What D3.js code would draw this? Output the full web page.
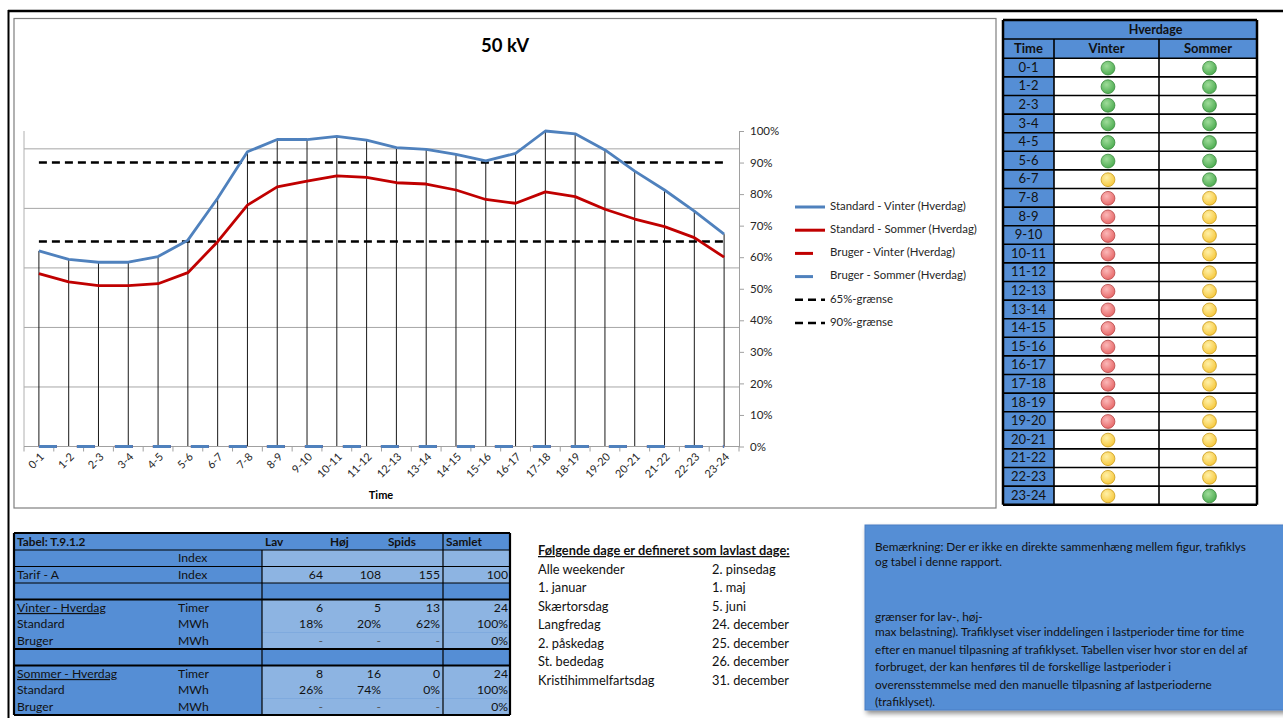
<!DOCTYPE html>
<html>
<head>
<meta charset="utf-8">
<script src="https://cdn.jsdelivr.net/npm/d3@7"></script>
<style>
  body { margin: 0; background: #fff; }
  svg { display: block; font-family: Lato, "Open Sans", sans-serif; }
</style>
</head>
<body>
<svg id="page" width="1283" height="718"></svg>
<script>
// Chart data
const hours = ['0-1','1-2','2-3','3-4','4-5','5-6','6-7','7-8','8-9','9-10','10-11','11-12',
  '12-13','13-14','14-15','15-16','16-17','17-18','18-19','19-20','20-21','21-22','22-23','23-24'];
const standardVinter = [62.0, 59.3, 58.4, 58.4, 60.2, 65.4, 78.7, 93.4, 97.3, 97.3, 98.3, 97.1,
  94.7, 94.2, 92.6, 90.5, 92.9, 100, 99.1, 94.0, 87.3, 81.3, 74.6, 67.3];
const standardSommer = [54.8, 52.2, 51.0, 51.0, 51.6, 55.1, 64.9, 76.5, 82.3, 84.1, 85.8, 85.3,
  83.6, 83.2, 81.3, 78.3, 77.1, 80.7, 79.2, 75.2, 72.1, 69.7, 66.2, 60.0];
const brugerVinter = [0,0,0,0,0,0,0,0,0,0,0,0,0,0,0,0,0,0,0,0,0,0,0,0];
const brugerSommer = [0,0,0,0,0,0,0,0,0,0,0,0,0,0,0,0,0,0,0,0,0,0,0,0];
const limit65 = 65;
const limit90 = 90;
const percentTicks = [0,10,20,30,40,50,60,70,80,90,100];
// hidden primary axis (gives the grey gridlines)
const primaryMax = 0.53;
const primaryTicks = [0.1,0.2,0.3,0.4,0.5];

const legendItems = [
  { label: 'Standard - Vinter (Hverdag)', color: '#4F81BD', dash: null },
  { label: 'Standard - Sommer (Hverdag)', color: '#C00000', dash: null },
  { label: 'Bruger - Vinter (Hverdag)', color: '#C00000', dash: '18,20' },
  { label: 'Bruger - Sommer (Hverdag)', color: '#4F81BD', dash: '18,20' },
  { label: '65%-grænse', color: '#000', dash: '8,5' },
  { label: '90%-grænse', color: '#000', dash: '8,5' }
];

// Traffic light table
const vinterLights = ['g','g','g','g','g','g','y','r','r','r','r','r','r','r','r','r','r','r','r','r','y','y','y','y'];
const sommerLights = ['g','g','g','g','g','g','g','y','y','y','y','y','y','y','y','y','y','y','y','y','y','y','y','g'];

// Bottom table
const tableTitle = 'Tabel: T.9.1.2';
const tableCols = ['Lav','Høj','Spids','Samlet'];
const tableRows = [
  { a: '', b: 'Index', v: ['', '', '', ''] },
  { a: 'Tarif - A', b: 'Index', v: ['64', '108', '155', '100'] },
  { blank: true },
  { a: 'Vinter - Hverdag', b: 'Timer', v: ['6', '5', '13', '24'], u: true },
  { a: 'Standard', b: 'MWh', v: ['18%', '20%', '62%', '100%'] },
  { a: 'Bruger', b: 'MWh', v: ['-', '-', '-', '0%'] },
  { blank: true },
  { a: 'Sommer - Hverdag', b: 'Timer', v: ['8', '16', '0', '24'], u: true },
  { a: 'Standard', b: 'MWh', v: ['26%', '74%', '0%', '100%'] },
  { a: 'Bruger', b: 'MWh', v: ['-', '-', '-', '0%'] }
];

const lavlastHeading = 'Følgende dage er defineret som lavlast dage:';
const lavlastLeft = ['Alle weekender','1. januar','Skærtorsdag','Langfredag','2. påskedag','St. bededag','Kristihimmelfartsdag'];
const lavlastRight = ['2. pinsedag','1. maj','5. juni','24. december','25. december','26. december','31. december'];

const noteLines = [
  'Bemærkning: Der er ikke en direkte sammenhæng mellem figur, trafiklys',
  'og tabel i denne rapport.',
  '',
  '',
  'grænser for lav-, høj-',
  'max belastning). Trafiklyset viser inddelingen i lastperioder time for time',
  'efter en manuel tilpasning af trafiklyset. Tabellen viser hvor stor en del af',
  'forbruget, der kan henføres til de forskellige lastperioder i',
  'overensstemmelse med den manuelle tilpasning af lastperioderne',
  '(trafiklyset).'
];

const svg = d3.select('#page');
const defs = svg.append('defs');

// Outer frame
svg.append('line').attr('x1', 8).attr('x2', 1283).attr('y1', 11).attr('y2', 11)
  .attr('stroke', '#000').attr('stroke-width', 2.5);
svg.append('line').attr('x1', 8.5).attr('x2', 8.5).attr('y1', 10).attr('y2', 718)
  .attr('stroke', '#000').attr('stroke-width', 2);

// Chart box
svg.append('rect').attr('x', 14).attr('y', 18.5).attr('width', 982).attr('height', 489.5)
  .attr('fill', '#fff').attr('stroke', '#7f7f7f').attr('stroke-width', 1.2);

svg.append('text').attr('x', 505).attr('y', 52).attr('text-anchor', 'middle')
  .attr('font-size', 18.5).attr('font-weight', 'bold').attr('fill', '#000').text('50 kV');

// Scales
const plotLeft = 24, plotRight = 739, plotTop = 131, plotBottom = 446.5;
const x = d3.scaleBand().domain(hours).range([plotLeft, plotRight]);
const xc = d => x(d) + x.bandwidth() / 2;
const y = d3.scaleLinear().domain([0, 100]).range([plotBottom, plotTop]);
const yPrim = d3.scaleLinear().domain([0, primaryMax]).range([plotBottom, plotTop]);

// Gridlines
svg.append('g').selectAll('line').data(primaryTicks).join('line')
  .attr('x1', plotLeft).attr('x2', plotRight)
  .attr('y1', d => yPrim(d)).attr('y2', d => yPrim(d))
  .attr('stroke', '#a6a6a6').attr('stroke-width', 1);

// Left (hidden) axis line
svg.append('line').attr('x1', plotLeft).attr('x2', plotLeft).attr('y1', plotTop).attr('y2', plotBottom)
  .attr('stroke', '#b0b0b0').attr('stroke-width', 1);

// Drop lines
svg.append('g').selectAll('line').data(hours).join('line')
  .attr('x1', d => xc(d)).attr('x2', d => xc(d))
  .attr('y1', (d, i) => y(Math.max(standardVinter[i], standardSommer[i])))
  .attr('y2', plotBottom)
  .attr('stroke', '#1a1a1a').attr('stroke-width', 1);

// Limit lines
[limit65, limit90].forEach(v => {
  svg.append('line')
    .attr('x1', xc(hours[0])).attr('x2', xc(hours[hours.length - 1]))
    .attr('y1', y(v)).attr('y2', y(v))
    .attr('stroke', '#000').attr('stroke-width', 2.6).attr('stroke-dasharray', '8,5');
});

const line = d3.line().x((d, i) => xc(hours[i])).y(d => y(d));

// Series lines
svg.append('path').datum(standardSommer).attr('d', line)
  .attr('fill', 'none').attr('stroke', '#C00000').attr('stroke-width', 2.8).attr('stroke-linejoin', 'round');
svg.append('path').datum(standardVinter).attr('d', line)
  .attr('fill', 'none').attr('stroke', '#4F81BD').attr('stroke-width', 2.8).attr('stroke-linejoin', 'round');

// X axis
svg.append('line').attr('x1', plotLeft).attr('x2', plotRight).attr('y1', plotBottom).attr('y2', plotBottom)
  .attr('stroke', '#a0a0a0').attr('stroke-width', 1);
svg.append('g').selectAll('line').data(hours.concat(['end'])).join('line')
  .attr('x1', d => d === 'end' ? plotRight : x(d)).attr('x2', d => d === 'end' ? plotRight : x(d))
  .attr('y1', plotBottom).attr('y2', plotBottom + 5)
  .attr('stroke', '#a0a0a0');

// Bruger series at zero
svg.append('path').datum(brugerVinter).attr('d', line)
  .attr('fill', 'none').attr('stroke', '#C00000').attr('stroke-width', 3).attr('stroke-dasharray', '18,20');
svg.append('path').datum(brugerSommer).attr('d', line)
  .attr('fill', 'none').attr('stroke', '#4F81BD').attr('stroke-width', 3.2).attr('stroke-dasharray', '18,20');

svg.append('g').selectAll('text').data(hours).join('text')
  .attr('transform', d => `translate(${xc(d) + 4},${plotBottom + 9}) rotate(-45)`)
  .attr('text-anchor', 'end').attr('dominant-baseline', 'middle')
  .attr('font-size', 11).attr('fill', '#262626').text(d => d);

svg.append('text').attr('x', 381).attr('y', 499).attr('text-anchor', 'middle')
  .attr('font-size', 11).attr('font-weight', 'bold').attr('fill', '#000').text('Time');

// Right axis
const yAxis = svg.append('g').attr('transform', `translate(${plotRight},0)`)
  .call(d3.axisRight(y).tickValues(percentTicks).tickFormat(d => d + '%').tickSize(5).tickPadding(6).tickSizeOuter(0));
yAxis.select('.domain').attr('stroke', '#a0a0a0');
yAxis.selectAll('.tick line').attr('stroke', '#a0a0a0');
yAxis.selectAll('.tick text').attr('font-family', 'Lato, sans-serif').attr('font-size', 11.5).attr('fill', '#262626');

// Legend
const legend = svg.append('g').attr('transform', 'translate(795,207)');
legendItems.forEach((d, i) => {
  const g = legend.append('g').attr('transform', `translate(0,${i * 23.2})`);
  g.append('line').attr('x1', 0).attr('x2', 30).attr('y1', 0).attr('y2', 0)
    .attr('stroke', d.color).attr('stroke-width', d.dash === '8,5' ? 2.6 : 3)
    .attr('stroke-dasharray', d.dash);
  g.append('text').attr('x', 35).attr('y', 0).attr('dominant-baseline', 'middle')
    .attr('font-size', 11.4).attr('fill', '#262626').text(d.label);
});

// Traffic light table
const tCols = [1003, 1054, 1159, 1257];
const tTop = 20, tHead1 = 39, tHead2 = 58.3, tRowH = 18.6;
const tBlue = '#558ED5';
const tg = svg.append('g');
tg.append('rect').attr('x', tCols[0]).attr('y', tTop).attr('width', tCols[3] - tCols[0]).attr('height', tHead2 - tTop).attr('fill', tBlue);
tg.append('rect').attr('x', tCols[0]).attr('y', tHead2).attr('width', tCols[1] - tCols[0]).attr('height', tRowH * 24).attr('fill', tBlue);
tg.append('text').attr('x', (tCols[1] + tCols[3]) / 2).attr('y', (tTop + tHead1) / 2 + 1).attr('dominant-baseline', 'middle')
  .attr('text-anchor', 'middle').attr('font-size', 12.5).attr('font-weight', 'bold').attr('fill', '#111').text('Hverdage');
[['Time', 0], ['Vinter', 1], ['Sommer', 2]].forEach(([t, c]) => {
  tg.append('text').attr('x', (tCols[c] + tCols[c + 1]) / 2).attr('y', (tHead1 + tHead2) / 2 + 1)
    .attr('dominant-baseline', 'middle').attr('text-anchor', 'middle')
    .attr('font-size', 13).attr('font-weight', 'bold').attr('fill', '#111').text(t);
});

const rowY = i => tHead2 + i * tRowH;
tg.selectAll('.hr').data(hours).join('text')
  .attr('x', (tCols[0] + tCols[1]) / 2).attr('y', (d, i) => rowY(i) + tRowH / 2 + 1)
  .attr('dominant-baseline', 'middle').attr('text-anchor', 'middle')
  .attr('font-size', 13).attr('fill', '#111').text(d => d);

// horizontal rules
const hRules = [tTop, tHead1, tHead2].concat(hours.map((d, i) => rowY(i + 1)));
tg.selectAll('.hl').data(hRules).join('line')
  .attr('x1', tCols[0]).attr('x2', tCols[3]).attr('y1', d => d).attr('y2', d => d)
  .attr('stroke', '#000').attr('stroke-width', (d, i) => i === 0 || i === hRules.length - 1 ? 2.5 : 1.6);
tg.append('line').attr('x1', tCols[0]).attr('x2', tCols[0]).attr('y1', tTop).attr('y2', rowY(24))
  .attr('stroke', '#000').attr('stroke-width', 2.5);
tg.append('line').attr('x1', tCols[3]).attr('x2', tCols[3]).attr('y1', tTop).attr('y2', rowY(24))
  .attr('stroke', '#000').attr('stroke-width', 2.5);
tg.append('line').attr('x1', tCols[1]).attr('x2', tCols[1]).attr('y1', tHead1).attr('y2', rowY(24))
  .attr('stroke', '#000').attr('stroke-width', 1.6);
tg.append('line').attr('x1', tCols[2]).attr('x2', tCols[2]).attr('y1', tHead1).attr('y2', rowY(24))
  .attr('stroke', '#000').attr('stroke-width', 1.6);

const lightColors = {
  g: ['#9fdc9a', '#4fae52', '#3a8a3e'],
  y: ['#fff0a8', '#f7c93e', '#c99a1a'],
  r: ['#fbb8b8', '#e86a6a', '#b54848']
};
Object.entries(lightColors).forEach(([k, c]) => {
  const grad = defs.append('radialGradient').attr('id', 'light-' + k)
    .attr('cx', '40%').attr('cy', '35%').attr('r', '65%');
  grad.append('stop').attr('offset', '0%').attr('stop-color', c[0]);
  grad.append('stop').attr('offset', '100%').attr('stop-color', c[1]);
});
[[vinterLights, 1], [sommerLights, 2]].forEach(([arr, c]) => {
  tg.selectAll('.l' + c).data(arr).join('circle')
    .attr('cx', (tCols[c] + tCols[c + 1]) / 2 + 1.5).attr('cy', (d, i) => rowY(i) + tRowH / 2 + 0.5)
    .attr('r', 6.9).attr('fill', d => `url(#light-${d})`)
    .attr('stroke', d => lightColors[d][2]).attr('stroke-width', 0.8);
});

// Bottom table
const bx = [14, 262, 443, 510];
const bColsLeft = { a: 17, b: 178 };
const numEnds = [323, 381, 440, 508];
const headStarts = [265, 330, 388, 446];
const bTop = 533, bHeadH = 17, bRowH = 16.5;
const darkBlue = '#558ED5', lightBlue = '#8DB4E2';
const bg = svg.append('g').attr('font-size', 12.2).attr('fill', '#111');
const bRowY = i => bTop + bHeadH + i * bRowH;
const bBottom = bRowY(tableRows.length);

bg.append('rect').attr('x', bx[0]).attr('y', bTop).attr('width', bx[3] - bx[0]).attr('height', bBottom - bTop).attr('fill', darkBlue);
tableRows.forEach((r, i) => {
  if (r.blank) return;
  bg.append('rect').attr('x', bx[1]).attr('y', bRowY(i)).attr('width', bx[3] - bx[1]).attr('height', bRowH).attr('fill', lightBlue);
});

bg.append('text').attr('x', bColsLeft.a).attr('y', bTop + 12.5).attr('font-weight', 'bold').attr('font-size', 11.8).text(tableTitle);
tableCols.forEach((c, j) => {
  bg.append('text').attr('x', headStarts[j]).attr('y', bTop + 12.5).attr('font-weight', 'bold').attr('font-size', 11.8).text(c);
});
tableRows.forEach((r, i) => {
  if (r.blank) return;
  const yy = bRowY(i) + bRowH / 2 + 4.2;
  bg.append('text').attr('x', bColsLeft.a).attr('y', yy)
    .attr('text-decoration', r.u ? 'underline' : null).text(r.a);
  bg.append('text').attr('x', bColsLeft.b).attr('y', yy).text(r.b);
  r.v.forEach((v, j) => {
    bg.append('text').attr('x', numEnds[j]).attr('y', yy).attr('text-anchor', 'end')
      .attr('fill', v === '-' ? '#555' : '#111').text(v);
  });
});

// table rules
const thick = [bTop, bRowY(3), bRowY(6), bRowY(7), bBottom];
const thin = [bRowY(0), bRowY(1), bRowY(2)];
thin.forEach(v => bg.append('line').attr('x1', bx[0]).attr('x2', bx[3]).attr('y1', v).attr('y2', v).attr('stroke', '#000').attr('stroke-width', 1.2));
thick.forEach(v => bg.append('line').attr('x1', bx[0]).attr('x2', bx[3]).attr('y1', v).attr('y2', v).attr('stroke', '#000').attr('stroke-width', 2.2));
bg.append('line').attr('x1', bx[0]).attr('x2', bx[0]).attr('y1', bTop).attr('y2', bBottom).attr('stroke', '#000').attr('stroke-width', 2.2);
bg.append('line').attr('x1', bx[3]).attr('x2', bx[3]).attr('y1', bTop).attr('y2', bBottom).attr('stroke', '#000').attr('stroke-width', 2.2);
bg.append('line').attr('x1', bx[1]).attr('x2', bx[1]).attr('y1', bRowY(0)).attr('y2', bBottom).attr('stroke', '#000').attr('stroke-width', 1.2);
bg.append('line').attr('x1', bx[2]).attr('x2', bx[2]).attr('y1', bTop).attr('y2', bBottom).attr('stroke', '#000').attr('stroke-width', 1.2);

// Lavlast days
const lg = svg.append('g').attr('font-size', 12.8).attr('fill', '#111');
lg.append('text').attr('x', 538).attr('y', 555).attr('font-weight', 'bold')
  .attr('text-decoration', 'underline').text(lavlastHeading);
lavlastLeft.forEach((t, i) => lg.append('text').attr('x', 538).attr('y', 573.5 + i * 18.5).text(t));
lavlastRight.forEach((t, i) => lg.append('text').attr('x', 712).attr('y', 573.5 + i * 18.5).text(t));

// Note box
const shadow = defs.append('filter').attr('id', 'shadow').attr('x', '-5%').attr('y', '-5%').attr('width', '115%').attr('height', '120%');
shadow.append('feDropShadow').attr('dx', 2).attr('dy', 3).attr('stdDeviation', 2.5).attr('flood-color', '#000').attr('flood-opacity', 0.45);
svg.append('rect').attr('x', 865).attr('y', 525).attr('width', 430).attr('height', 185)
  .attr('fill', '#558ED5').attr('stroke', '#4a7fc4').attr('filter', 'url(#shadow)');
const ng = svg.append('g').attr('font-size', 11.8).attr('fill', '#111');
const noteY = [547, 562, 0, 0, 617, 632, 649.5, 667, 685, 702];
noteLines.forEach((t, i) => {
  if (!t) return;
  ng.append('text').attr('x', 875).attr('y', noteY[i] + 4).text(t);
});
</script>
</body>
</html>
